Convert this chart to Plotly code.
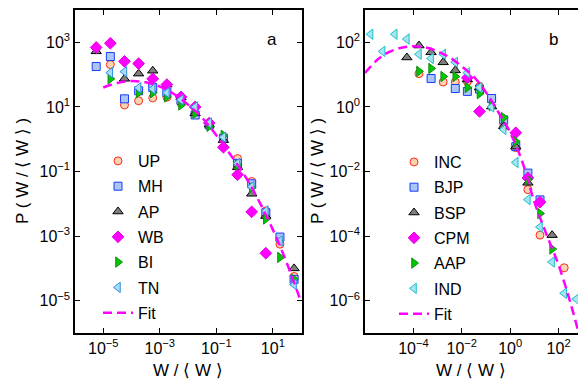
import numpy as np
import plotly.graph_objects as go

# ---------------- data (log10 values) ----------------
# Panel a
xa_log = [-5.25, -4.75, -4.25, -3.75, -3.25, -2.75, -2.25, -1.75, -1.25, -0.75, -0.25, 0.25, 0.75, 1.25, 1.75]
up_log = [None, 2.31, 1.06, 1.19, 1.28, 1.30, 1.12, 0.80, 0.50, 0.06, -0.60, -1.31, -2.22, -3.25, -4.25]
mh_log = [2.25, 2.56, 1.25, 1.50, 1.60, 1.45, 1.20, 0.75, 0.44, 0.03, -0.75, -1.38, -2.28, -3.03, -4.34]
ap_log = [2.72, None, 1.87, 2.03, 2.12, 1.69, 1.30, 0.80, 0.45, -0.03, -0.87, -1.69, -2.38, None, -4.00]
wb_log = [2.84, 2.97, 2.41, 2.34, 1.87, 1.69, 1.31, 1.00, 0.50, -0.25, -1.10, -2.25, -3.53, None, None]
bi_log = [None, 1.87, None, 1.44, 1.44, 1.31, 1.06, 0.80, 0.40, 0.12, -0.80, -1.50, -2.47, -3.66, -4.34]
tn_log = [None, 2.06, 2.09, 1.59, 1.56, 1.44, 1.22, 1.00, 0.50, 0.06, -0.75, -1.47, -2.22, -3.15, -4.50]
fita_x_log = [-5, -4.5, -4, -3.5, -3, -2.5, -2, -1.5, -1, -0.5, 0, 0.5, 1, 1.5, 2]
fita_y_log = [1.60, 1.74, 1.80, 1.76, 1.63, 1.40, 1.07, 0.66, 0.12, -0.48, -1.12, -1.90, -2.80, -3.85, -5.05]

# Panel b
xb_log = [-5.77, -5.27, -4.77, -4.27, -3.77, -3.27, -2.77, -2.27, -1.77, -1.27, -0.77, -0.27, 0.23, 0.73, 1.23, 1.73, 2.23, 2.73]
inc_log = [None, None, None, None, 1.03, None, 0.77, 0.77, 0.79, 0.63, 0.23, -0.60, -1.26, -2.56, -3.97, None, -4.98, None]
bjp_log = [None, None, None, None, None, 0.88, None, 0.57, 0.48, 0.55, 0.26, -0.40, -1.23, -2.05, -2.88, None, None, None]
bsp_log = [None, None, None, 1.53, 1.90, 1.69, 1.38, 1.13, 0.85, 0.60, 0.01, -0.60, -1.23, -2.35, None, -3.97, None, None]
cpm_log = [None, None, None, None, None, None, None, None, 0.90, -0.14, None, None, -0.80, -2.20, -2.95, None, None, None]
aap_log = [None, None, None, None, 1.10, 1.19, 0.94, 0.94, 0.60, 0.41, 0.04, -0.33, -1.07, -2.25, -3.30, -4.40, None, None]
ind_log = [2.25, 1.72, 2.25, 2.10, 1.63, 1.50, 1.63, 1.38, 1.06, 0.60, 0.00, -0.70, -1.72, -2.87, -3.72, -4.80, -5.77, -5.95]
fitb_x_log = [-6, -5.5, -5, -4.5, -4, -3.5, -3, -2.5, -2, -1.5, -1, -0.5, 0, 0.5, 1, 1.5, 2, 2.5, 2.9]
fitb_y_log = [1.05, 1.45, 1.70, 1.83, 1.88, 1.84, 1.72, 1.53, 1.25, 0.93, 0.45, -0.15, -0.80, -1.70, -2.95, -3.95, -4.90, -6.10, -7.20]

names_a = ["UP", "MH", "AP", "WB", "BI", "TN"]
names_b = ["INC", "BJP", "BSP", "CPM", "AAP", "IND"]

xa_ticks = [-5, -3, -1, 1]
ya_ticks = [-5, -3, -1, 1, 3]
xb_ticks = [-4, -2, 0, 2]
yb_ticks = [-6, -4, -2, 0, 2]


def p10(v):
    return [None if t is None else 10.0 ** t for t in v]


def sup(e):
    s = str(e).replace("-", "\u2212")
    return "10<sup>" + s + "</sup>"


styles = {
    "circle": dict(symbol="circle", size=8, color="#F7D3B4", line=dict(color="#FF2A1A", width=1)),
    "square": dict(symbol="square", size=8, color="#A9C7F2", line=dict(color="#1A3CFF", width=1)),
    "tri_up": dict(symbol="triangle-up", size=9, color="#7F7F7F", line=dict(color="#000000", width=1)),
    "diamond": dict(symbol="diamond", size=9, color="#FF00FF", line=dict(color="#E000E0", width=1)),
    "tri_right": dict(symbol="triangle-right", size=9, color="#00C800", line=dict(color="#128A12", width=1)),
    "tri_left_a": dict(symbol="triangle-left", size=9, color="#A6DDF2", line=dict(color="#2F8FE0", width=1)),
    "tri_left_b": dict(symbol="triangle-left", size=9, color="#A6E4EE", line=dict(color="#1CBFCC", width=1)),
}

FONT = "Liberation Sans, Arial, sans-serif"
fig = go.Figure()

series_a = [(up_log, "circle"), (mh_log, "square"), (ap_log, "tri_up"),
            (wb_log, "diamond"), (bi_log, "tri_right"), (tn_log, "tri_left_a")]
series_b = [(inc_log, "circle"), (bjp_log, "square"), (bsp_log, "tri_up"),
            (cpm_log, "diamond"), (aap_log, "tri_right"), (ind_log, "tri_left_b")]

for nm, (vals, st) in zip(names_a, series_a):
    s = styles[st]
    fig.add_trace(go.Scatter(
        x=p10(xa_log), y=p10(vals), mode="markers", name=nm,
        marker=dict(symbol=s["symbol"], size=s["size"], color=s["color"], line=s["line"]),
        xaxis="x", yaxis="y", legend="legend", legendgroup="a" + nm, cliponaxis=False))
fig.add_trace(go.Scatter(
    x=p10(fita_x_log), y=p10(fita_y_log), mode="lines", name="Fit",
    line=dict(color="#FF00FF", width=2.5, dash="9px,5px", shape="spline"),
    xaxis="x", yaxis="y", legend="legend", legendgroup="afit"))

for nm, (vals, st) in zip(names_b, series_b):
    s = styles[st]
    fig.add_trace(go.Scatter(
        x=p10(xb_log), y=p10(vals), mode="markers", name=nm,
        marker=dict(symbol=s["symbol"], size=s["size"], color=s["color"], line=s["line"]),
        xaxis="x2", yaxis="y2", legend="legend2", legendgroup="b" + nm, cliponaxis=False))
fig.add_trace(go.Scatter(
    x=p10(fitb_x_log), y=p10(fitb_y_log), mode="lines", name="Fit",
    line=dict(color="#FF00FF", width=2.5, dash="9px,5px", shape="spline"),
    xaxis="x2", yaxis="y2", legend="legend2", legendgroup="bfit"))

W, H = 578, 383
ydom = [1 - 333 / H, 1 - 10 / H]

axis_common = dict(type="log", showgrid=False, zeroline=False, showline=True,
                   linecolor="black", linewidth=1.5, ticks="inside", ticklen=5,
                   tickcolor="black", tickwidth=1,
                   tickfont=dict(family=FONT, size=16, color="black"))

fig.update_layout(
    width=W, height=H, margin=dict(l=0, r=0, t=0, b=0),
    paper_bgcolor="white", plot_bgcolor="white",
    xaxis=dict(axis_common, domain=[75 / W, 302 / W], range=[-6, 2.03], anchor="y",
               mirror="ticks", tickmode="array",
               tickvals=[10.0 ** e for e in xa_ticks], ticktext=[sup(e) for e in xa_ticks]),
    yaxis=dict(axis_common, domain=ydom, range=[-6, 4], anchor="x",
               mirror="ticks", tickmode="array",
               tickvals=[10.0 ** e for e in ya_ticks], ticktext=[sup(e) for e in ya_ticks]),
    xaxis2=dict(axis_common, domain=[365 / W, 1.0], range=[-6, 2.8], anchor="y2",
                mirror="ticks", tickmode="array",
                tickvals=[10.0 ** e for e in xb_ticks], ticktext=[sup(e) for e in xb_ticks]),
    yaxis2=dict(axis_common, domain=ydom, range=[-7, 3], anchor="x2",
                mirror=False, tickmode="array",
                tickvals=[10.0 ** e for e in yb_ticks], ticktext=[sup(e) for e in yb_ticks]),
    legend=dict(x=98 / W, y=1 - 144 / H, xanchor="left", yanchor="top",
                bgcolor="rgba(0,0,0,0)", font=dict(family=FONT, size=16, color="black"),
                tracegroupgap=1.5, itemclick=False),
    legend2=dict(x=394 / W, y=1 - 145 / H, xanchor="left", yanchor="top",
                 bgcolor="rgba(0,0,0,0)", font=dict(family=FONT, size=16, color="black"),
                 tracegroupgap=1.5, itemclick=False),
    showlegend=True,
)

ytitle = "P ( W / \u27e8 W \u27e9 )"
xtitle = "W / \u27e8 W \u27e9"
ann = [
    dict(text=ytitle, x=22 / W, y=1 - 171 / H, textangle=-90),
    dict(text=ytitle, x=317 / W, y=1 - 171 / H, textangle=-90),
    dict(text=xtitle, x=188 / W, y=1 - 370 / H),
    dict(text=xtitle, x=471 / W, y=1 - 370 / H),
    dict(text="a", x=272 / W, y=1 - 40 / H),
    dict(text="b", x=553 / W, y=1 - 40 / H),
]
for a in ann:
    fig.add_annotation(xref="paper", yref="paper", showarrow=False,
                       xanchor="center", yanchor="middle",
                       font=dict(family=FONT, size=17, color="black"), **a)

fig.write_html("out.html", config={"displayModeBar": False},
               post_script="document.body.style.margin='0';document.body.style.padding='0';")
